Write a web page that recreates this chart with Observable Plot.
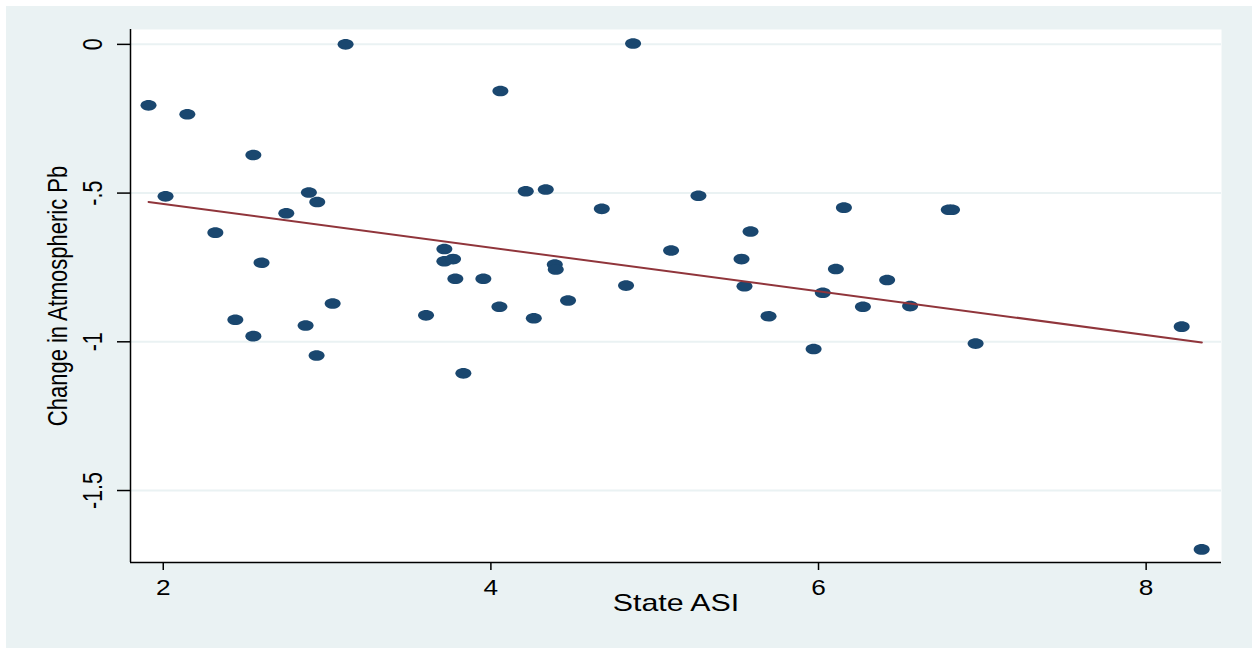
<!DOCTYPE html>
<html>
<head>
<meta charset="utf-8">
<script src="https://cdn.jsdelivr.net/npm/d3@7"></script>
<script src="https://cdn.jsdelivr.net/npm/@observablehq/plot@0.6"></script>
<style>
  html, body { margin: 0; padding: 0; background: #ffffff; }
  #chart { position: absolute; left: 6px; top: 6px; width: 1246px; height: 642px; }
</style>
</head>
<body>
<div id="chart"></div>
<script>
// State ASI (x) and change in atmospheric Pb (y)
const stateASI = [
  1.91, 2.147, 3.113, 2.55, 2.014, 2.889, 2.94, 2.751, 2.318, 2.60,
  3.034, 2.44, 2.869, 3.604, 2.55, 2.936, 4.058, 4.868, 4.213, 4.335,
  4.677, 5.267, 5.585, 3.716, 3.716, 3.769, 3.783, 3.954, 4.39, 4.396,
  5.10, 5.53, 4.825, 5.548, 4.052, 4.471, 4.262, 5.695, 6.026, 3.832,
  5.97, 6.155, 6.795, 6.815, 6.106, 6.419, 6.271, 6.559, 8.217, 6.959,
  8.339
];
const changePb = [
  -0.205, -0.235, 0.0, -0.372, -0.511, -0.498, -0.530, -0.568, -0.633, -0.734,
  -0.871, -0.926, -0.945, -0.911, -0.981, -1.046, -0.157, 0.003, -0.494, -0.488,
  -0.553, -0.509, -0.629, -0.688, -0.729, -0.722, -0.788, -0.788, -0.740, -0.757,
  -0.693, -0.722, -0.811, -0.813, -0.882, -0.861, -0.921, -0.914, -0.835, -1.106,
  -1.024, -0.549, -0.556, -0.556, -0.755, -0.792, -0.882, -0.880, -0.949, -1.006,
  -1.698
];
// fitted line end points
const fitX = [1.91, 8.34];
const fitY = [-0.530, -1.002];

const xTicks = [2, 4, 6, 8];
const xTickLabels = ["2", "4", "6", "8"];
const yTicks = [0, -0.5, -1, -1.5];
const yTickLabels = ["0", "-.5", "-1", "-1.5"];
const xLabel = "State ASI";
const yLabel = "Change in Atmospheric Pb";

const xDomain = [1.80, 8.46];
const yDomain = [-1.742, 0.05];

const points = stateASI.map((x, i) => ({x, y: changePb[i]}));
const fit = fitX.map((x, i) => ({x, y: fitY[i]}));

const ellipse = {
  draw(ctx) {
    const rx = 8, ry = 5.3, kx = rx * 0.5523, ky = ry * 0.5523;
    ctx.moveTo(rx, 0);
    ctx.bezierCurveTo(rx, ky, kx, ry, 0, ry);
    ctx.bezierCurveTo(-kx, ry, -rx, ky, -rx, 0);
    ctx.bezierCurveTo(-rx, -ky, -kx, -ry, 0, -ry);
    ctx.bezierCurveTo(kx, -ry, rx, -ky, rx, 0);
    ctx.closePath();
  }
};

const font = "'Liberation Sans', Arial, sans-serif";

const plot = Plot.plot({
  width: 1246,
  height: 642,
  marginLeft: 124,
  marginTop: 23,
  marginRight: 31,
  marginBottom: 86,
  style: {background: "#eaf2f3", fontFamily: font, color: "#000"},
  x: {domain: xDomain},
  y: {domain: yDomain},
  marks: [
    Plot.frame({fill: "#ffffff", stroke: null}),
    Plot.gridY(yTicks, {stroke: "#eaf2f3", strokeOpacity: 1, strokeWidth: 2}),
    Plot.axisY({ticks: yTicks, tickSize: 13, tickFormat: () => "", label: null, stroke: "#000", strokeWidth: 1.5}),
    Plot.text(yTicks, {y: d => d, text: (d, i) => yTickLabels[i], frameAnchor: "left", textAnchor: "middle", lineAnchor: "middle", rotate: -90, dx: -37, fontSize: 21.5, fill: "#000"}),
    Plot.axisX({ticks: xTicks, tickFormat: (d) => xTickLabels[xTicks.indexOf(d)], tickSize: 8, tickPadding: 9, fontSize: 21.5, label: null, stroke: "#000", strokeWidth: 1.5}),
    Plot.ruleX([xDomain[0]], {stroke: "#000", strokeWidth: 1.5}),
    Plot.ruleY([yDomain[0]], {stroke: "#000", strokeWidth: 1.5}),
    Plot.dot(points, {x: "x", y: "y", symbol: ellipse, fill: "#1a476f", stroke: null}),
    Plot.line(fit, {x: "x", y: "y", stroke: "#90353b", strokeWidth: 2}),
    Plot.text([xLabel], {frameAnchor: "bottom", dy: 48, fontSize: 23, fill: "#000", className: "xlabel"}),
    Plot.text([yLabel], {frameAnchor: "left", textAnchor: "middle", lineAnchor: "middle", rotate: -90, dx: -73, fontSize: 22, fill: "#000"})
  ]
});

// horizontal stretch of the lettering, as in the picture
plot.querySelectorAll("text").forEach(t => {
  const tr = t.getAttribute("transform");
  if (!tr) return;
  const rotated = /rotate\(-90\)/.test(tr);
  const isXLabel = t.textContent === xLabel;
  const s = rotated ? " scale(1,1.28)" : (isXLabel ? " scale(1.32,1)" : " scale(1.22,1)");
  t.setAttribute("transform", tr + s);
});

document.getElementById("chart").appendChild(plot);
</script>
</body>
</html>
